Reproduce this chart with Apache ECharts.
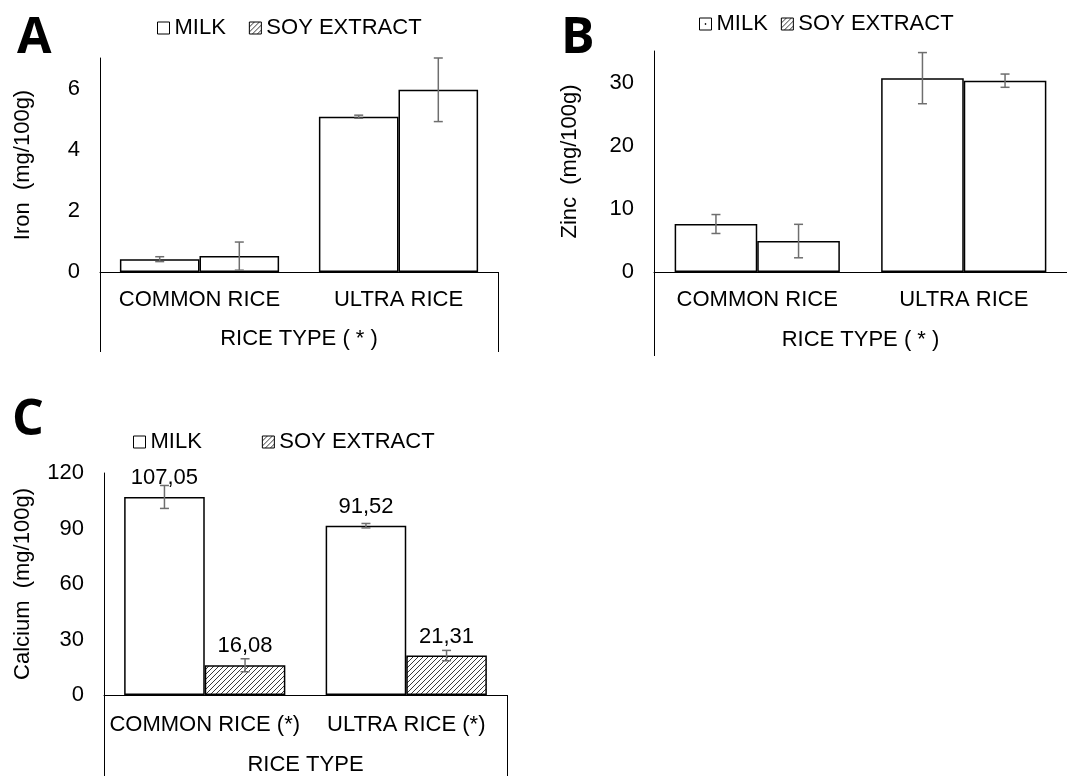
<!DOCTYPE html>
<html>
<head>
<meta charset="utf-8">
<title>Iron, zinc and calcium in rice</title>
<script src="https://cdn.jsdelivr.net/npm/echarts@6/dist/echarts.min.js"></script>
<style>
  html, body { margin: 0; padding: 0; background: #fff; }
  #chart { width: 1067px; height: 776px; }
</style>
</head>
<body>
<div id="chart"></div>
<script>
// ---- data ----
const categoriesAB = ['COMMON RICE', 'ULTRA RICE'];
const categoriesC = ['COMMON RICE (*)', 'ULTRA RICE (*)'];
const groupTitleAB = 'RICE TYPE ( * )';
const groupTitleC = 'RICE TYPE';
const seriesNames = ['MILK', 'SOY EXTRACT'];

const ironMilk = [0.42, 5.08];
const ironMilkErr = [0.08, 0.05];
const ironSoy = [0.52, 5.96];
const ironSoyErr = [0.46, 1.04];

const zincMilk = [7.6, 30.7];
const zincMilkErr = [1.5, 4.05];
const zincSoy = [4.9, 30.3];
const zincSoyErr = [2.65, 1.05];

const calciumMilk = [107.05, 91.52];
const calciumMilkErr = [6.2, 1.2];
const calciumSoy = [16.08, 21.31];
const calciumSoyErr = [3.5, 2.8];

// ---- styling helpers ----
const FONT = "'Liberation Sans', Arial, sans-serif";
const FS = 22;
const INK = '#000';
const ERR = '#6e6e6e';

// diagonal hatch used for the soy extract fill
function makeHatch() {
  const s = 5;
  const c = document.createElement('canvas');
  c.width = s; c.height = s;
  const g = c.getContext('2d');
  g.fillStyle = '#fff';
  g.fillRect(0, 0, s, s);
  g.strokeStyle = '#3a3a3a';
  g.lineWidth = 1;
  for (const k of [-s, 0, s]) {
    g.beginPath();
    g.moveTo(k, s);
    g.lineTo(k + s, 0);
    g.stroke();
  }
  return c;
}
const hatch = { image: makeHatch(), repeat: 'repeat' };

const chart = echarts.init(document.getElementById('chart'), null, { renderer: 'canvas' });

// grids: A (iron), B (zinc), C (calcium)
const grids = [
  { left: 100, top: 58, width: 398, height: 214 },
  { left: 654, top: 51, width: 416, height: 221 },
  { left: 104, top: 473, width: 403, height: 224 }
];

function catAxis(gi, cats, margin) {
  return {
    type: 'category', gridIndex: gi, data: cats, position: 'bottom',
    axisLine: { show: true, lineStyle: { color: INK, width: 1 } },
    axisTick: { show: false },
    axisLabel: { interval: 0, margin: margin, color: INK, fontSize: FS, fontFamily: FONT },
    splitLine: { show: false }
  };
}
function groupAxis(gi, title, tickLen, margin) {
  return {
    type: 'category', gridIndex: gi, data: [title], position: 'bottom',
    axisLine: { show: false },
    axisTick: { show: true, length: tickLen, lineStyle: { color: INK, width: 1 } },
    axisLabel: { margin: margin, color: INK, fontSize: FS, fontFamily: FONT },
    splitLine: { show: false }
  };
}
function valAxis(gi, name, max, interval, nameGap, showMax) {
  return {
    type: 'value', gridIndex: gi, min: 0, max: max, interval: interval,
    name: name, nameLocation: 'middle', nameGap: nameGap, nameRotate: 90,
    nameTextStyle: { color: INK, fontSize: FS, fontFamily: FONT },
    axisLine: { show: true, lineStyle: { color: INK, width: 1 } },
    axisTick: { show: false },
    splitLine: { show: false },
    axisLabel: { margin: 20, color: INK, fontSize: FS, fontFamily: FONT, showMaxLabel: showMax }
  };
}

const barBase = {
  type: 'bar', barGap: '0%', barCategoryGap: '20%',
  itemStyle: { color: '#fff', borderColor: INK, borderWidth: 1.5 }
};

function errorSeries(name, xi, yi, values, errs, side) {
  return {
    type: 'custom', name: name, xAxisIndex: xi, yAxisIndex: yi, z: 5,
    data: values.map((v, i) => [i, v, errs[i]]),
    renderItem: function (params, api) {
      const band = api.size([1, 0])[0];
      const x = api.coord([api.value(0), 0])[0] + side * band * 0.2;
      const v = api.value(1), e = api.value(2);
      const hi = api.coord([api.value(0), v + e])[1];
      const lo = api.coord([api.value(0), v - e])[1];
      const cap = 4.5;
      const st = { stroke: ERR, lineWidth: 1.5 };
      return {
        type: 'group',
        children: [
          { type: 'line', shape: { x1: x, y1: hi, x2: x, y2: lo }, style: st },
          { type: 'line', shape: { x1: x - cap, y1: hi, x2: x + cap, y2: hi }, style: st },
          { type: 'line', shape: { x1: x - cap, y1: lo, x2: x + cap, y2: lo }, style: st }
        ]
      };
    }
  };
}

const valueLabel = {
  show: true, position: 'top', distance: 8, color: INK, fontSize: FS, fontFamily: FONT,
  formatter: p => p.value.toFixed(2).replace('.', ',')
};

const legendText = { color: INK, fontSize: FS, fontFamily: FONT };
const milkItem = { name: seriesNames[0], icon: 'rect', itemStyle: { color: '#fff', borderColor: INK, borderWidth: 1 } };
const milkDotItem = { name: seriesNames[0], icon: 'path://M0,0H12V12H0Z M5.6,5.6H6.4V6.4H5.6Z', itemStyle: { color: '#fff', borderColor: INK, borderWidth: 1 } };
const soyItem = { name: seriesNames[1], icon: 'rect', itemStyle: { color: hatch, borderColor: INK, borderWidth: 1 } };

function legendAt(left, top, gap, items) {
  return {
    left: left, top: top, orient: 'horizontal', padding: 0,
    itemWidth: 12, itemHeight: 12, itemGap: gap, selectedMode: false,
    textStyle: legendText, data: items
  };
}

const letterStyle = { fontSize: 50, fontWeight: 'bold', fontFamily: "'Open Sans', sans-serif", fill: INK };

const option = {
  animation: false,
  backgroundColor: '#fff',
  grid: grids,
  xAxis: [
    catAxis(0, categoriesAB, 17), groupAxis(0, groupTitleAB, 80, 56),
    catAxis(1, categoriesAB, 17), groupAxis(1, groupTitleAB, 84, 57),
    catAxis(2, categoriesC, 19), groupAxis(2, groupTitleC, 90, 59)
  ],
  yAxis: [
    valAxis(0, 'Iron  (mg/100g)', 7, 2, 66, false),
    valAxis(1, 'Zinc  (mg/100g)', 35, 10, 73, false),
    valAxis(2, 'Calcium  (mg/100g)', 120, 30, 70, true)
  ],
  legend: [
    legendAt(157, 17, 23, [milkItem, soyItem]),
    legendAt(699, 13, 13, [milkDotItem, soyItem]),
    legendAt(133, 431, 60, [milkItem, soyItem])
  ],
  graphic: [
    { type: 'text', left: 17, top: 14, style: Object.assign({ text: 'A' }, letterStyle) },
    { type: 'text', left: 561, top: 14, style: Object.assign({ text: 'B' }, letterStyle) },
    { type: 'text', left: 12, top: 396, style: Object.assign({ text: 'C' }, letterStyle) }
  ],
  series: [
    Object.assign({}, barBase, { name: seriesNames[0], xAxisIndex: 0, yAxisIndex: 0, data: ironMilk }),
    Object.assign({}, barBase, { name: seriesNames[1], xAxisIndex: 0, yAxisIndex: 0, data: ironSoy }),
    errorSeries('iron milk sd', 0, 0, ironMilk, ironMilkErr, -1),
    errorSeries('iron soy sd', 0, 0, ironSoy, ironSoyErr, 1),

    Object.assign({}, barBase, { name: seriesNames[0], xAxisIndex: 2, yAxisIndex: 1, data: zincMilk }),
    Object.assign({}, barBase, { name: seriesNames[1], xAxisIndex: 2, yAxisIndex: 1, data: zincSoy }),
    errorSeries('zinc milk sd', 2, 1, zincMilk, zincMilkErr, -1),
    errorSeries('zinc soy sd', 2, 1, zincSoy, zincSoyErr, 1),

    Object.assign({}, barBase, { name: seriesNames[0], xAxisIndex: 4, yAxisIndex: 2, data: calciumMilk, label: valueLabel }),
    Object.assign({}, barBase, { name: seriesNames[1], xAxisIndex: 4, yAxisIndex: 2, data: calciumSoy, label: valueLabel,
      itemStyle: { color: hatch, borderColor: INK, borderWidth: 1.5 } }),
    errorSeries('calcium milk sd', 4, 2, calciumMilk, calciumMilkErr, -1),
    errorSeries('calcium soy sd', 4, 2, calciumSoy, calciumSoyErr, 1)
  ]
};

chart.setOption(option);
</script>
</body>
</html>
